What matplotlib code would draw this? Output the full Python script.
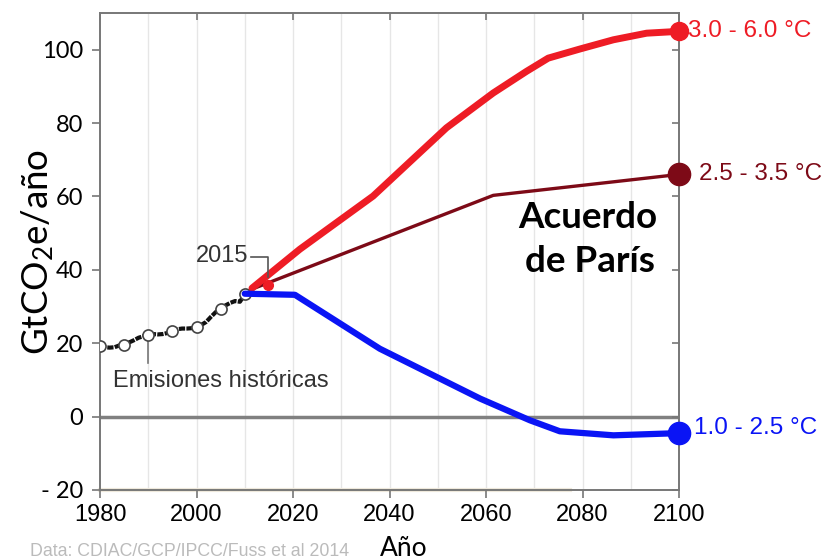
import matplotlib
matplotlib.use("Agg")
import matplotlib.pyplot as plt
import numpy as np

# ---------------- data ----------------
hist_years = list(range(1980, 2013))
hist_vals = [19.3, 18.9, 18.8, 18.9, 19.4, 19.6, 20.2, 20.8, 21.5, 21.9,
             22.3, 22.5, 22.4, 22.5, 22.8, 23.3, 23.8, 24.0, 24.0, 24.1,
             24.5, 25.0, 25.8, 27.2, 28.5, 29.3, 30.3, 31.0, 31.5, 31.3,
             33.3, 34.0, 34.5]
hist_mark_years = [1980, 1985, 1990, 1995, 2000, 2005, 2010]
hist_mark_vals = [19.2, 19.6, 22.3, 23.3, 24.5, 29.3, 33.3]

red_years = [2011.5, 2021.4, 2036.6, 2051.8, 2061.5, 2068.4, 2072.9, 2079.5, 2086.4, 2093.3, 2100]
red_vals = [35.0, 45.6, 60.1, 78.7, 88.2, 94.1, 97.7, 100.2, 102.7, 104.5, 105.0]

dred_years = [2012, 2061.5, 2100]
dred_vals = [35.0, 60.3, 66.0]

blue_years = [2010, 2020.4, 2038, 2058.8, 2069.1, 2075.3, 2086.4, 2100]
blue_vals = [33.5, 33.2, 18.5, 4.9, -1.0, -4.0, -5.1, -4.5]

marker_2015 = (2014.8, 35.9)

scen_labels = ["3.0 - 6.0 °C", "2.5 - 3.5 °C", "1.0 - 2.5 °C"]
scen_colors = ["#ee1c25", "#7d0a17", "#0a14f5"]

xticks = [1980, 2000, 2020, 2040, 2060, 2080, 2100]
yticks = [-20, 0, 20, 40, 60, 80, 100]
ytick_labels = ["- 20", "0", "20", "40", "60", "80", "100"]

# ---------------- figure ----------------
plt.rcParams['mathtext.fontset'] = 'custom'
plt.rcParams['mathtext.rm'] = 'Lato'
plt.rcParams['mathtext.it'] = 'Lato:italic'

fig = plt.figure(figsize=(8.23, 5.60), dpi=100)
ax = fig.add_axes([100/823, 1-490/560, 579/823, (490-13)/560])
ax.set_xlim(1980, 2100)
ax.set_ylim(-20, 110)

# grid
for gx in range(1990, 2100, 10):
    ax.axvline(gx, color="#e6e6e6", lw=1.0, zorder=0)
ax.axhline(0, color="#808080", lw=2.5, zorder=1)
ax.plot([1980, 2077.5], [-20, -20], color="#efe9dc", lw=3, zorder=1, clip_on=False)

# spines
for s in ax.spines.values():
    s.set_color("#777777")
    s.set_linewidth(1.4)

ax.set_xticks(xticks)
ax.set_xticklabels([str(x) for x in xticks], fontfamily="Liberation Sans", fontsize=17)
ax.set_yticks(yticks)
ax.set_yticklabels(ytick_labels, fontfamily="Lato", fontsize=17)
ax.tick_params(axis='both', direction='out', length=6, color="#777777", width=1.2)
ax.tick_params(axis='y', pad=6)
ax.tick_params(axis='x', pad=4)
ax.tick_params(top=True, right=True, which='both')
for t in ax.xaxis.get_major_ticks():
    t.tick2line.set_marker(3)  # pointing down (inward)
    t.tick2line.set_markersize(5)
for t in ax.yaxis.get_major_ticks():
    t.tick2line.set_marker(0)  # pointing left (inward)
    t.tick2line.set_markersize(5)

# historical
ax.plot(hist_years, hist_vals, color="#111111", lw=3, ls=(0, (1.5, 0.3)), zorder=3)
ax.plot(hist_mark_years, hist_mark_vals, ls="none", marker="o", ms=8,
        mfc="white", mec="#444444", mew=1.2, zorder=4)

# scenarios
ax.plot(dred_years, dred_vals, color=scen_colors[1], lw=2.4, zorder=3, solid_capstyle='round')
ax.plot(red_years, red_vals, color=scen_colors[0], lw=5, zorder=4, solid_capstyle='round')
ax.plot(blue_years, blue_vals, color=scen_colors[2], lw=4.5, zorder=4, solid_capstyle='round')

ax.plot([2100], [red_vals[-1]], 'o', color=scen_colors[0], ms=13, clip_on=False, zorder=6)
ax.plot([2100], [dred_vals[-1]], 'o', color=scen_colors[1], ms=16, clip_on=False, zorder=6)
ax.plot([2100], [blue_vals[-1]], 'o', color=scen_colors[2], ms=16, clip_on=False, zorder=6)
ax.plot([marker_2015[0]], [marker_2015[1]], 'o', color=scen_colors[0], ms=7, zorder=5)

# right labels
ax.text(2101.8, red_vals[-1], scen_labels[0], color=scen_colors[0], fontsize=17.5,
        fontfamily="Liberation Sans", va="center", ha="left", clip_on=False)
ax.text(2104.2, dred_vals[-1], scen_labels[1], color=scen_colors[1], fontsize=17.5,
        fontfamily="Liberation Sans", va="center", ha="left", clip_on=False)
ax.text(2103.2, blue_vals[-1] + 1.5, scen_labels[2], color=scen_colors[2], fontsize=17.5,
        fontfamily="Liberation Sans", va="center", ha="left", clip_on=False)

# annotations
ax.text(2081, 54.3, "Acuerdo", fontsize=26.5, fontweight="bold", fontfamily="Lato",
        ha="center", va="center", color="black")
ax.text(2081.5, 42.2, "de París", fontsize=26.5, fontweight="bold", fontfamily="Lato",
        ha="center", va="center", color="black")

ax.text(2010.7, 43.9, "2015", fontsize=17, fontfamily="Liberation Sans",
        ha="right", va="center", color="#333333")
ax.plot([2011.2, 2014.8, 2014.8], [43.6, 43.6, 38.0], color="#555555", lw=1.2, zorder=5)

ax.plot([1990, 1990], [21.2, 14.5], color="#777777", lw=1.2, zorder=2)
ax.text(1982.6, 9.8, "Emisiones históricas", fontsize=17, fontfamily="Liberation Sans",
        ha="left", va="center", color="#333333")

ax.set_ylabel("GtCO$_2$e/año", fontsize=26.5, fontfamily="Lato")
ax.yaxis.set_label_coords(-0.076, 0.50, transform=ax.transAxes)
fig.text(404/823, 1-548/560, "Año", fontsize=19, fontfamily="Lato", ha="center", va="center")
fig.text(30/823, 1-551/560, "Data: CDIAC/GCP/IPCC/Fuss et al 2014", fontsize=12.8,
         fontfamily="Liberation Sans", color="#bbbbbb", ha="left", va="center")

fig.savefig("out.png", dpi=100)
